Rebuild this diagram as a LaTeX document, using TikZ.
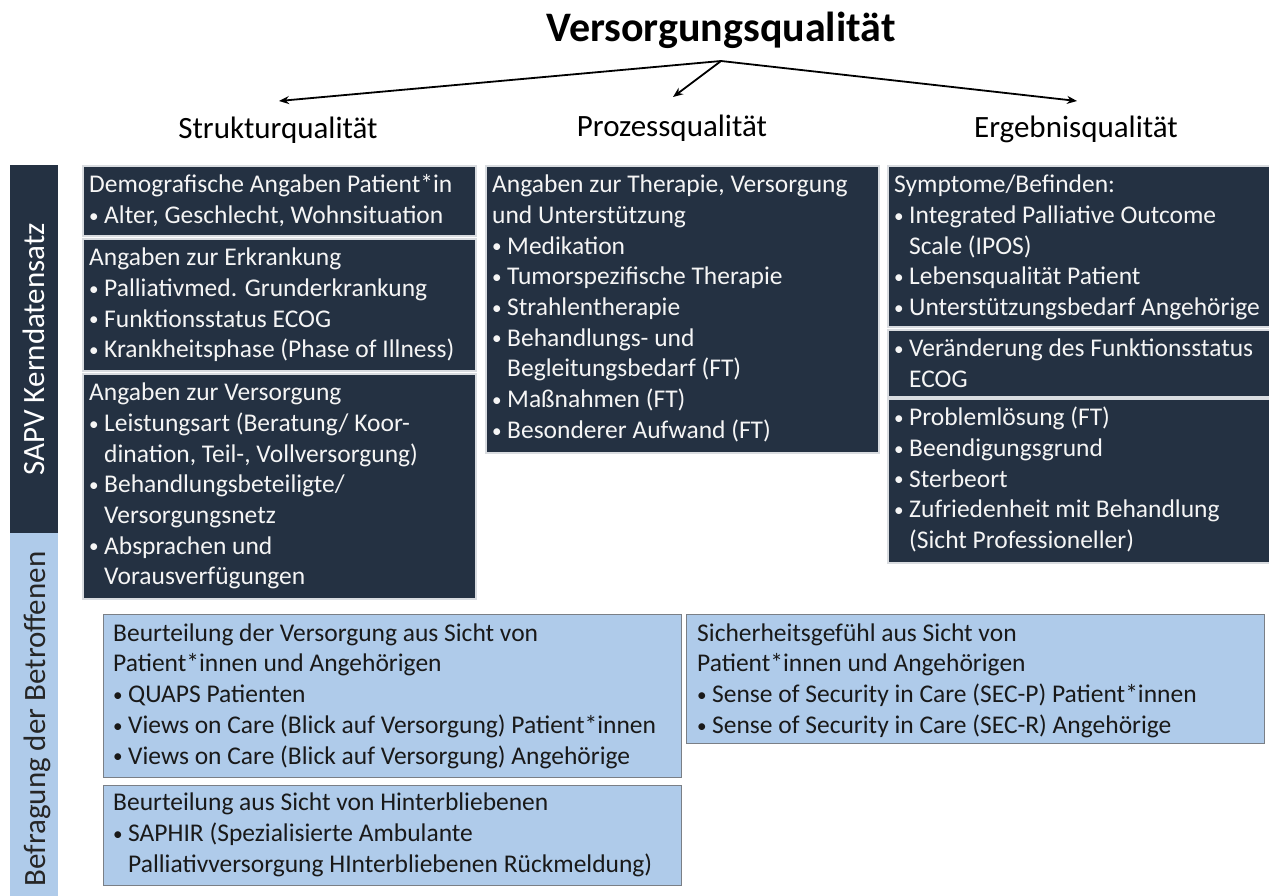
\documentclass[tikz,border=0pt]{standalone}
\usepackage{fontspec}
\setmainfont{Carlito}
\usetikzlibrary{arrows.meta}
\definecolor{navy}{HTML}{243142}
\definecolor{lblue}{HTML}{AFCBEA}
\definecolor{lgrey}{HTML}{D9DCE0}
\definecolor{bgrey}{HTML}{7A7F86}
\newcommand\bul{\makebox[15pt][l]{\raisebox{0.05em}{\scalebox{0.75}{•}}}}
\newcommand\ind{\hspace*{15pt}}
\newcommand\dstrut{\rule{0pt}{21pt}}
\begin{document}
\begin{tikzpicture}[x=1pt,y=-1pt,
  darkbox/.style={draw=lgrey, line width=1.6pt, fill=navy, inner sep=0pt, anchor=north west},
  lightbox/.style={draw=bgrey, line width=1.3pt, fill=lblue, inner sep=0pt, anchor=north west},
  darktxt/.style={anchor=north west, inner sep=0pt, align=left, text=white!96!black, font=\fontsize{25.5}{30.7}\selectfont},
  lighttxt/.style={anchor=north west, inner sep=0pt, align=left, text=black!90, font=\fontsize{25.5}{30.7}\selectfont},
  sidelabel/.style={rotate=90, inner sep=0pt, font=\fontsize{31}{36}\selectfont},
  heading/.style={anchor=base, inner sep=0pt, font=\fontsize{31}{36}\selectfont},
  arr/.style={line width=1.8pt, -{Stealth[length=10pt,width=8pt]}}
]
\fill[white] (0,0) rectangle (1269,896);
\useasboundingbox (0,0) rectangle (1269,896);

% title and headings
\node[anchor=base, inner sep=0pt, font=\fontsize{42}{48}\selectfont\bfseries] (title) at (721,42) {Versorgungsqualität};
\coordinate (hub) at (721,61);
\node[heading] (struk) at (278,139) {Strukturqualität};
\node[heading] (proz) at (672,137) {Prozessqualität};
\node[heading] (erg) at (1076,138) {Ergebnisqualität};
\coordinate (tipS) at (279,101);
\coordinate (tipP) at (673,97);
\coordinate (tipE) at (1077,101);
\draw[arr] (hub) -- (tipS);
\draw[arr] (hub) -- (tipP);
\draw[arr] (hub) -- (tipE);

% side bars
\node[fill=navy, inner sep=0pt, minimum width=48pt, minimum height=368pt, anchor=north west] (sideK) at (10,165) {};
\node[sidelabel, text=white] (sideKt) at (sideK.center) {SAPV Kerndatensatz};
\node[fill=lblue, inner sep=0pt, minimum width=48pt, minimum height=380pt, anchor=north west] (sideB) at (10,533) {};
\node[sidelabel, text=black!85] (sideBt) at (37,719) {Befragung der Betroffenen};

% Strukturqualitaet column
\node[darkbox, minimum width=393pt, minimum height=70pt] (s1) at (82,165) {};
\node[darktxt] (s1t) at ([shift={(7,6.5)}]s1.north west) {\dstrut Demografische Angaben Patient*in\\\bul Alter, Geschlecht, Wohnsituation};
\node[darkbox, minimum width=393pt, minimum height=132pt] (s2) at (82,238) {};
\node[darktxt] (s2t) at ([shift={(7,6.5)}]s2.north west) {\dstrut Angaben zur Erkrankung\\\bul Palliativmed. Grunderkrankung\\\bul Funktionsstatus ECOG\\\bul Krankheitsphase (Phase of Illness)};
\node[darkbox, minimum width=393pt, minimum height=225pt] (s3) at (82,373) {};
\node[darktxt] (s3t) at ([shift={(7,6.5)}]s3.north west) {\dstrut Angaben zur Versorgung\\\bul Leistungsart (Beratung/ Koor-\\\ind dination, Teil-, Vollversorgung)\\\bul Behandlungsbeteiligte/\\\ind Versorgungsnetz\\\bul Absprachen und\\\ind Vorausverfügungen};

% Prozessqualitaet column
\node[darkbox, minimum width=393pt, minimum height=287pt] (p1) at (485,165) {};
\node[darktxt] (p1t) at ([shift={(7,6.5)}]p1.north west) {\dstrut Angaben zur Therapie, Versorgung\\und Unterstützung\\\bul Medikation\\\bul Tumorspezifische Therapie\\\bul Strahlentherapie\\\bul Behandlungs- und\\\ind Begleitungsbedarf (FT)\\\bul Maßnahmen (FT)\\\bul Besonderer Aufwand (FT)};

% Ergebnisqualitaet column
\node[darkbox, minimum width=392pt, minimum height=161pt] (e1) at (887,165) {};
\node[darktxt] (e1t) at ([shift={(7,6.5)}]e1.north west) {\dstrut Symptome/Befinden:\\\bul Integrated Palliative Outcome\\\ind Scale (IPOS)\\\bul Lebensqualität Patient\\\bul Unterstützungsbedarf Angehörige};
\node[darkbox, minimum width=392pt, minimum height=67pt] (e2) at (887,329) {};
\node[darktxt] (e2t) at ([shift={(7,6.5)}]e2.north west) {\dstrut\bul Veränderung des Funktionsstatus\\\ind ECOG};
\node[darkbox, minimum width=392pt, minimum height=164pt] (e3) at (887,398) {};
\node[darktxt] (e3t) at ([shift={(7,6.5)}]e3.north west) {\dstrut\bul Problemlösung (FT)\\\bul Beendigungsgrund\\\bul Sterbeort\\\bul Zufriedenheit mit Behandlung\\\ind (Sicht Professioneller)};

% Befragung boxes
\node[lightbox, minimum width=578pt, minimum height=163pt] (bA) at (103,614) {};
\node[lighttxt] (bAt) at ([shift={(10,6)}]bA.north west) {\dstrut Beurteilung der Versorgung aus Sicht von\\Patient*innen und Angehörigen\\\bul QUAPS Patienten\\\bul Views on Care (Blick auf Versorgung) Patient*innen\\\bul Views on Care (Blick auf Versorgung) Angehörige};
\node[lightbox, minimum width=578pt, minimum height=129pt] (bB) at (686,614) {};
\node[lighttxt] (bBt) at ([shift={(11,6)}]bB.north west) {\dstrut Sicherheitsgefühl aus Sicht von\\Patient*innen und Angehörigen\\\bul Sense of Security in Care (SEC-P) Patient*innen\\\bul Sense of Security in Care (SEC-R) Angehörige};
\node[lightbox, minimum width=578pt, minimum height=100pt] (bC) at (103,785) {};
\node[lighttxt] (bCt) at ([shift={(10,4.5)}]bC.north west) {\dstrut Beurteilung aus Sicht von Hinterbliebenen\\\bul SAPHIR (Spezialisierte Ambulante\\\ind Palliativversorgung HInterbliebenen Rückmeldung)};
\end{tikzpicture}
\end{document}
